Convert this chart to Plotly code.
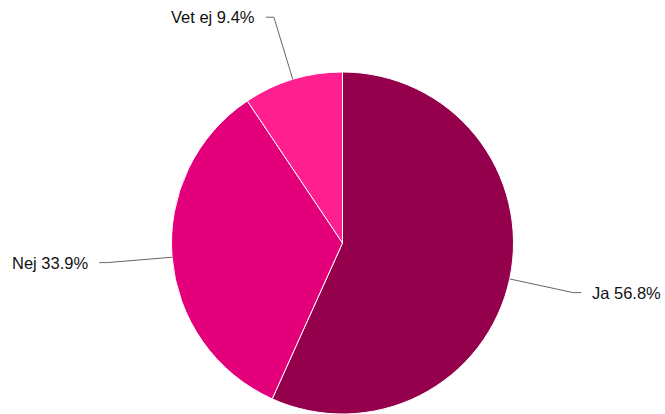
import numpy as np
import plotly.graph_objects as go

labels = ["Ja", "Nej", "Vet ej"]
values = [56.8, 33.9, 9.4]
colors = ["#94004b", "#e3007a", "#ff1f8f"]

W, H = 665, 414
cx, cy, R = 342.5, 243.0, 171.0  # pixel geometry of the pie

fig = go.Figure(go.Pie(
    labels=labels, values=values, sort=False, direction="clockwise", rotation=0,
    marker=dict(colors=colors, line=dict(color="white", width=1)),
    textinfo="none", hoverinfo="label+percent", showlegend=False,
    domain=dict(x=[(cx - R) / W, (cx + R) / W], y=[(H - cy - R) / H, (H - cy + R) / H]),
))

def px(x, y):
    return x / W, 1 - y / H

vals = np.array(values, dtype=float)
frac = vals / vals.sum()
mids = np.cumsum(frac) - frac / 2
shapes, annots = [], []
for lab, v, m in zip(labels, values, mids):
    ang = np.deg2rad(90 - 360 * m)
    x0, y0 = cx + R * np.cos(ang), cy - R * np.sin(ang)
    k = 1.38
    x1, y1 = cx + R * k * np.cos(ang), cy - R * k * np.sin(ang)
    side = 1 if np.cos(ang) >= 0 else -1
    x2 = x1 + side * 8
    pts = [(x0, y0), (x1, y1), (x2, y1)]
    path = "M " + " L ".join(f"{px(a, b)[0]},{px(a, b)[1]}" for a, b in pts)
    shapes.append(dict(type="path", path=path, xref="paper", yref="paper",
                       line=dict(color="#666666", width=1)))
    tx, ty = px(x2 + side * 9, y1)
    annots.append(dict(x=tx, y=ty, xref="paper", yref="paper", showarrow=False,
                       text=f"{lab} {v}%", xanchor="left" if side > 0 else "right",
                       yanchor="middle", font=dict(size=16.5, color="#111111",
                                                  family="Liberation Sans, Arial, sans-serif")))

fig.update_layout(width=W, height=H, margin=dict(l=0, r=0, t=0, b=0),
                  paper_bgcolor="white", plot_bgcolor="white",
                  shapes=shapes, annotations=annots)
fig.write_html("out.html", config={"displayModeBar": False},
               post_script="document.body.style.margin='0';document.body.style.padding='0';")
